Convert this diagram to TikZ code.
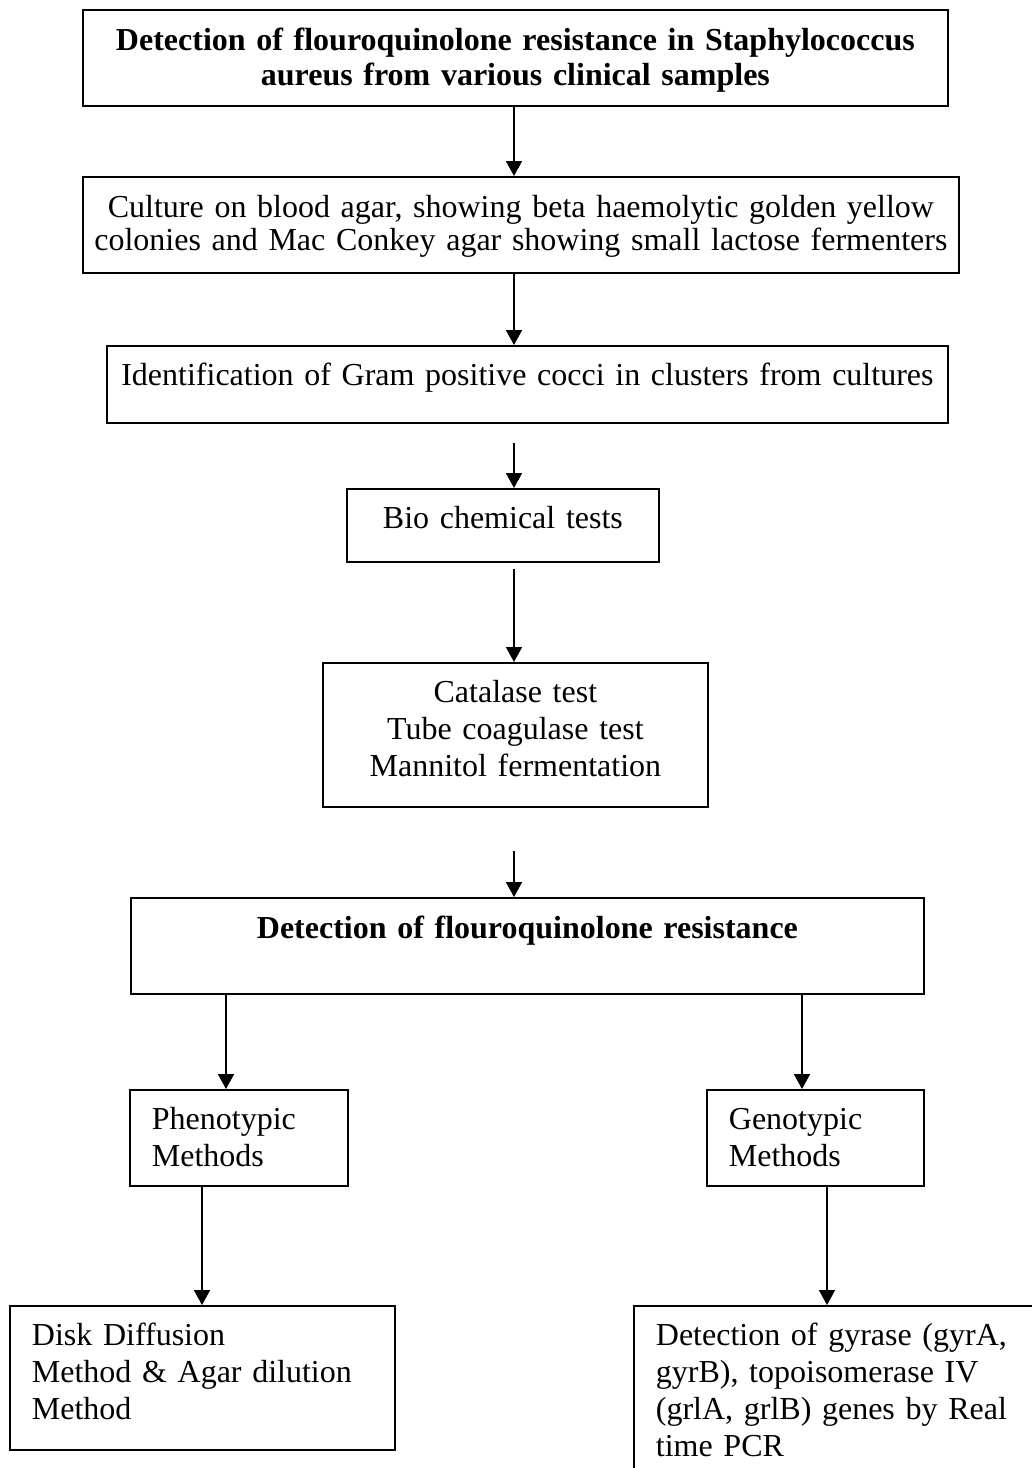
\documentclass[tikz,border=0pt]{standalone}
\usepackage{fontspec}
\setmainfont{Liberation Serif}
\usetikzlibrary{arrows.meta,calc,positioning}

\tikzset{
	box/.style={draw,line width=1.8pt,inner sep=0pt,anchor=north west,
		font=\fontsize{32}{36.7}\selectfont},
	lbox/.style={box,align=left,inner xsep=22pt},
	cbox/.style={box,align=center},
	flow/.style={line width=1.8pt,-{Triangle[length=15pt,width=16pt]}}
}

\begin{document}
\begin{tikzpicture}[x=1pt,y=-1pt]
	\useasboundingbox (0,0) rectangle (1032,1468);
	\clip (0,0) rectangle (1032,1468);
	
	% 中间一列
	\node[cbox,text width=865pt,text height=41pt,text depth=55pt,
		font=\fontsize{32}{35}\selectfont\bfseries] (top) at (82,9)
		{Detection of flouroquinolone resistance in Staphylococcus\\aureus from various clinical samples};
	\node[cbox,text width=876pt,text height=41pt,text depth=55pt,
		font=\fontsize{32}{33}\selectfont] (culture) at (82,176)
		{Culture on blood agar, showing beta haemolytic golden yellow\\colonies and Mac Conkey agar showing small lactose fermenters};
	\node[cbox,text width=841pt,text height=40pt,text depth=37pt] (ident) at (106,345)
		{Identification of Gram positive cocci in clusters from cultures};
	\node[cbox,text width=312pt,text height=40pt,text depth=33pt] (bio) at (346,488)
		{Bio chemical tests};
	\node[cbox,text width=385pt,text height=40pt,text depth=104pt] (catalase) at (322,662)
		{Catalase test\\Tube coagulase test\\Mannitol fermentation};
	\node[cbox,text width=793pt,text height=41pt,text depth=55pt,
		font=\fontsize{32}{35}\selectfont\bfseries] (detect) at (130,897)
		{Detection of flouroquinolone resistance};
	
	% 两个分支
	\node[lbox,text width=174pt,text height=40pt,text depth=56pt] (pheno) at (129,1089)
		{Phenotypic\\Methods};
	\node[lbox,text width=173pt,text height=40pt,text depth=56pt] (geno) at (706,1089)
		{Genotypic\\Methods};
	\node[lbox,text width=341pt,text height=40pt,text depth=104pt] (disk) at (9,1305)
		{Disk Diffusion\\Method \& Agar dilution\\Method};
	\node[lbox,text width=368pt,text height=40pt,text depth=135pt] (genes) at (633,1305)
		{Detection of gyrase (gyrA,\\gyrB), topoisomerase IV\\(grlA, grlB) genes by Real\\time PCR};
	
	% 箭头所在的竖线
	\coordinate (spine) at (514,0);
	\coordinate (pl) at (226,0);
	\coordinate (gl) at (802,0);
	\coordinate (pd) at (202,0);
	\coordinate (gd) at (827,0);
	
	% 画箭头
	\foreach \a/\b/\g in {top/culture/0,culture/ident/0,ident/bio/19,bio/catalase/6,catalase/detect/43}
	\draw[flow] ($(\a.south -| spine)+(0,\g)$) -- (\b.north -| spine);
	\foreach \a/\b/\x in {detect/pheno/pl,detect/geno/gl,pheno/disk/pd,geno/genes/gd}
	\draw[flow] (\a.south -| \x) -- (\b.north -| \x);
\end{tikzpicture}
\end{document}
